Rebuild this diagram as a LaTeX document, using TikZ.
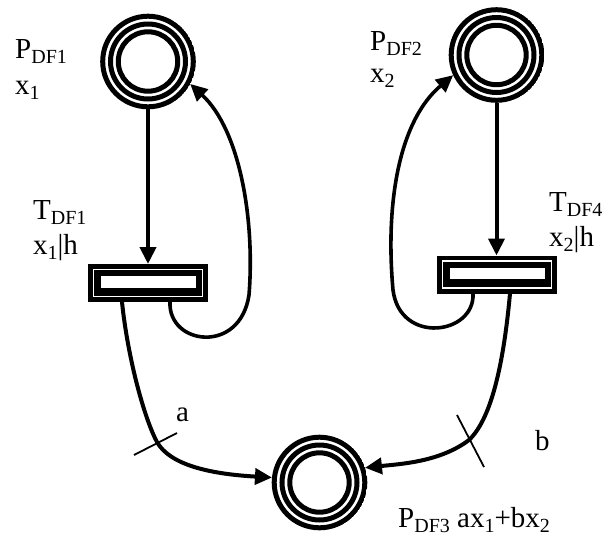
\documentclass[tikz,border=0pt]{standalone}
\usepackage{fontspec}
\setmainfont{Liberation Serif}
\usetikzlibrary{arrows.meta}
\newcommand{\lsub}[1]{\raisebox{-0.2em}{\fontsize{20}{20}\selectfont #1}}
\begin{document}
\begin{tikzpicture}[x=1pt,y=-1pt,
 place/.style={circle, minimum size=95.6pt, inner sep=0pt, outer sep=0pt,
   path picture={\draw[line width=5pt] (path picture bounding box.center) circle[radius=45.3pt] circle[radius=37.5pt] circle[radius=29.7pt];}},
 trans/.style={rectangle, minimum width=120pt, minimum height=38pt, inner sep=0pt, outer sep=0pt, fill=black,
   path picture={
     \draw[white, line width=1.5pt] ([shift={(5.5pt,-5.5pt)}]path picture bounding box.north west) rectangle ([shift={(-5.5pt,5.5pt)}]path picture bounding box.south east);
     \fill[white] ([shift={(12.5pt,-12pt)}]path picture bounding box.north west) rectangle ([shift={(-12pt,14.5pt)}]path picture bounding box.south east);}},
 lbl/.style={anchor=base west, inner sep=0pt, font=\fontsize{29}{30}\selectfont},
 arc/.style={line width=4pt, -{Triangle[length=17pt,width=16pt]}},
 loop/.style={line width=3.6pt, -{Triangle[length=17pt,width=16pt]}},
 tick/.style={line width=1.8pt}]
\useasboundingbox (0,0) rectangle (603,539);

\node[place] (p1) at (148,61.5) {};
\node[place] (p2) at (496.5,55) {};
\node[place] (p3) at (319.5,482.5) {};
\node[trans] (t1) at (148,283) {};
\node[trans] (t4) at (497,274.5) {};

% labels
\node[lbl] (lp1) at (15,58) {P\lsub{DF1}};
\node[lbl] (lx1) at (15,94) {x\lsub{1}};
\node[lbl] (lt1) at (33,219) {T\lsub{DF1}};
\node[lbl] (lh1) at (33,254) {x\lsub{1}|h};
\node[lbl] (lp2) at (370,50) {P\lsub{DF2}};
\node[lbl] (lx2) at (370,82) {x\lsub{2}};
\node[lbl] (lt4) at (549,211) {T\lsub{DF4}};
\node[lbl] (lh4) at (549,246) {x\lsub{2}|h};
\node[lbl] (la) at (176,421) {a};
\node[lbl] (lb) at (535,450) {b};
\node[lbl] (lp3) at (398,527) {P\lsub{DF3} ax\lsub{1}+bx\lsub{2}};

% connectors
\draw[arc] (p1) -- (t1);
\draw[arc] (p2.south) -- (p2.south |- t4.north);
\draw[loop] ([xshift=22pt]t1.south) .. controls (168,345) and (240,355) .. (249,295)
   .. controls (255,220) and (240,130) .. (p1.-28);
\draw[loop] ([xshift=-24pt]t4.south) .. controls (475,335) and (400,345) .. (393,290)
   .. controls (385,200) and (400,120) .. (p2.-155);
\draw[arc] ([xshift=-26pt]t1.south) .. controls (128,360) and (145,420) .. (157,442)
   .. controls (170,465) and (210,474) .. (p3.174);
\draw[arc] ([xshift=13pt]t4.south) .. controls (503,370) and (490,420) .. (469,440)
   .. controls (440,462) and (400,464) .. (p3.18);

% ticks
\coordinate (ta1) at (134,455);
\coordinate (ta2) at (177,433);
\coordinate (tb1) at (457,415);
\coordinate (tb2) at (484,467);
\draw[tick] (ta1) -- (ta2);
\draw[tick] (tb1) -- (tb2);
\end{tikzpicture}
\end{document}
